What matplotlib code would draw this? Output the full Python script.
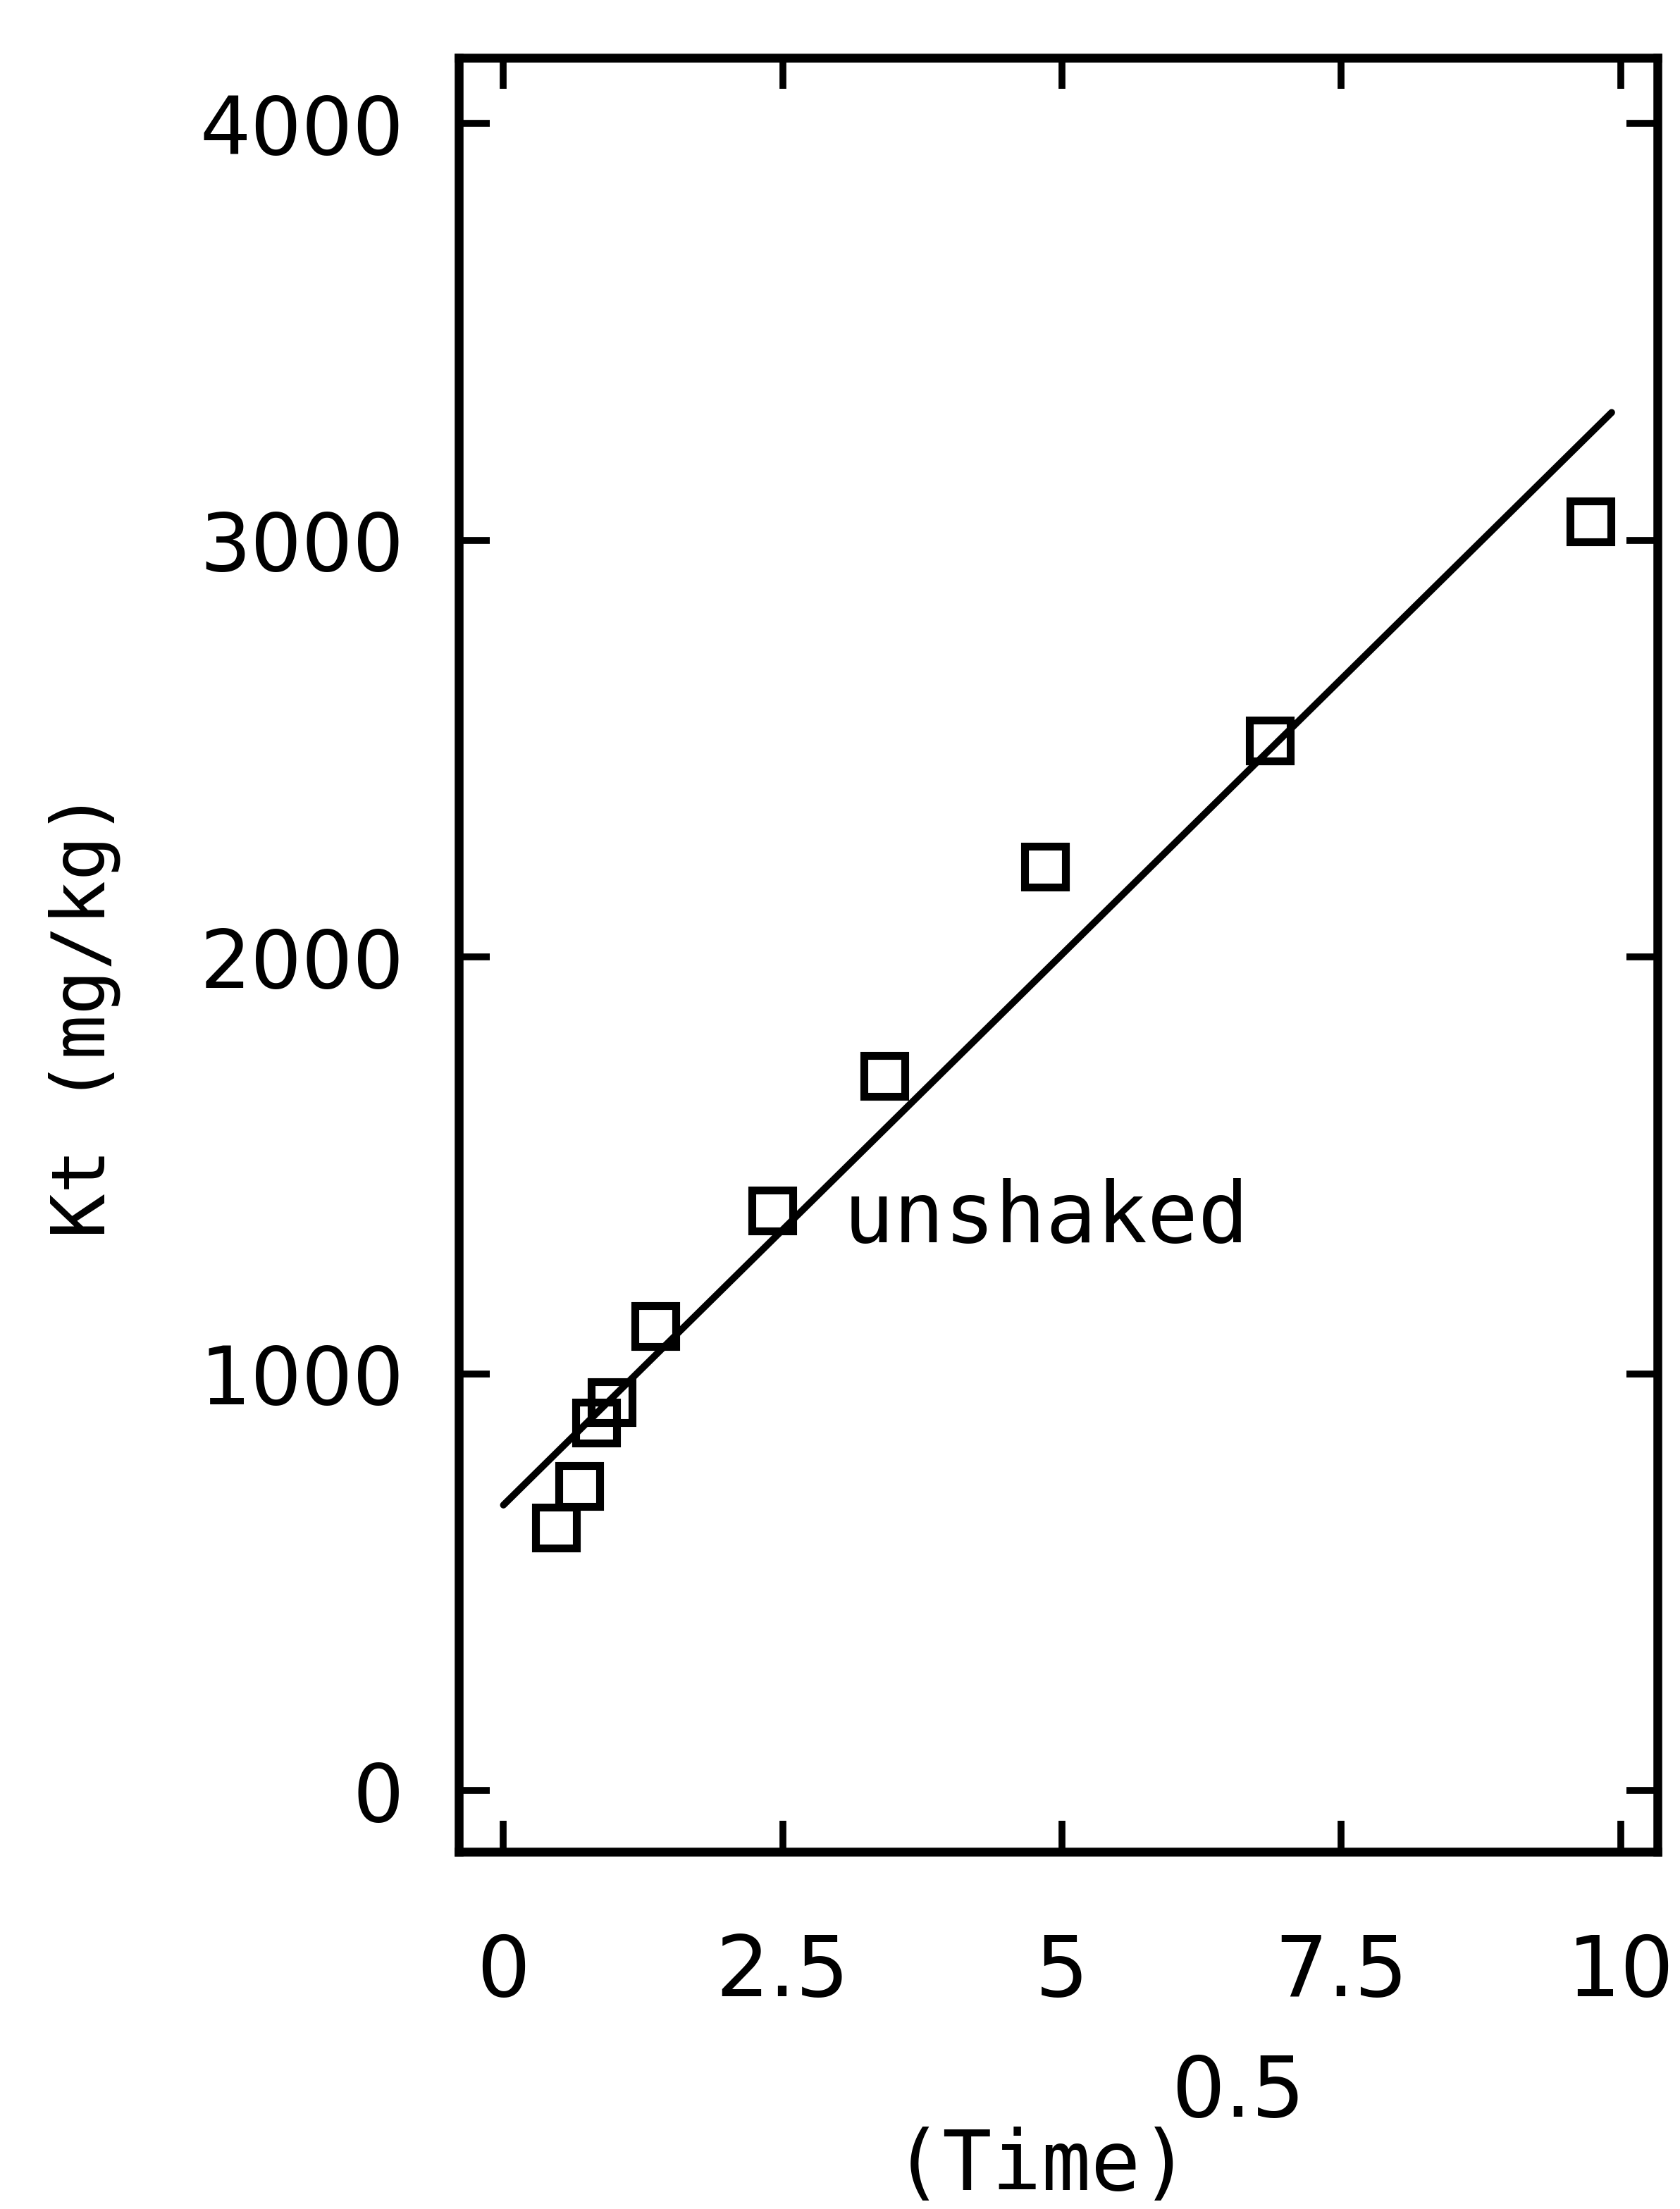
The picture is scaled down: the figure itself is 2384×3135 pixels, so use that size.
import matplotlib
matplotlib.use("Agg")
import matplotlib.pyplot as plt

# data: x is sqrt(time), y is Kt (mg/kg)
sqrt_time = [0.47, 0.68, 0.83, 0.97, 1.36, 2.41, 3.41, 4.85, 6.86, 9.73]
kt = [630, 730, 883, 932, 1114, 1391, 1715, 2217, 2519, 3046]

# fitted line drawn in the original
fit_x = [0.0, 9.92]
fit_intercept = 685
fit_slope = 264.3

x_ticks = [0, 2.5, 5, 7.5, 10]
x_ticklabels = ["0", "2.5", "5", "7.5", "10"]
y_ticks = [0, 1000, 2000, 3000, 4000]
y_ticklabels = ["0", "1000", "2000", "3000", "4000"]

W, H = 2384, 3135
fig = plt.figure(figsize=(W / 100, H / 100), dpi=100)
ax = fig.add_axes([651 / W, 1 - 2628 / H, (2352 - 651) / W, (2628 - 82) / H])

fit_y = [fit_intercept + fit_slope * x for x in fit_x]
ax.plot(fit_x, fit_y, color="black", lw=7, solid_capstyle="round")
ax.plot(sqrt_time, kt, linestyle="none", marker="s", ms=42,
        mfc="none", mec="black", mew=8)

ax.text(3.04, 1315, "unshaked", fontsize=86, family="DejaVu Sans Mono",
        ha="left", va="baseline")

ax.set_xlim(-0.40, 10.33)
ax.set_ylim(-147, 4158)

ax.set_xticks(x_ticks)
ax.set_xticklabels(x_ticklabels, family="DejaVu Sans", fontsize=86)
ax.set_yticks(y_ticks)
ax.set_yticklabels(y_ticklabels, family="DejaVu Sans", fontsize=82)
ax.tick_params(axis="both", direction="in", length=32, width=7,
               top=True, right=True)
ax.tick_params(axis="x", pad=82)
ax.tick_params(axis="y", pad=56)
for sp in ax.spines.values():
    sp.set_linewidth(9)

fig.text(120 / W, 1 - 1440 / H, "Kt (mg/kg)", rotation=90, fontsize=76,
         family="DejaVu Sans Mono", ha="center", va="center")
fig.text(1478 / W, 1 - 3018 / H, "(Time)", fontsize=84,
         family="DejaVu Sans Mono", ha="center", va="top")
fig.text(1757 / W, 1 - 3004 / H, "0.5", fontsize=86,
         family="DejaVu Sans", ha="center", va="baseline")

fig.savefig("out.png", dpi=100, facecolor="white")
